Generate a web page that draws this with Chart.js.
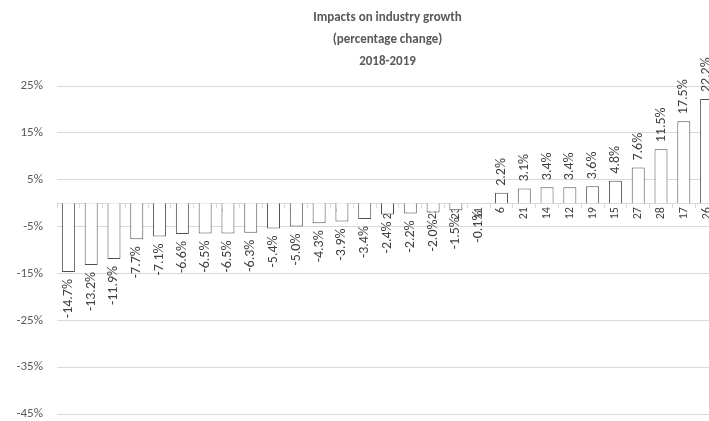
<!DOCTYPE html>
<html>
<head>
<meta charset="utf-8">
<script src="https://cdn.jsdelivr.net/npm/chart.js@4"></script>
<style>
  html, body { margin: 0; padding: 0; background: #fff; overflow: hidden; }
  /* the original is cropped: the plot runs a little past the right edge */
  #frame { width: 709px; height: 421px; overflow: hidden; }
</style>
</head>
<body>
<div id="frame"><canvas id="growth" width="718" height="421"></canvas></div>
<script>
const industries = ["5", "10", "7", "29", "3", "4", "1", "18", "25", "13", "16", "9", "8", "24", "20",
    "2", "22", "23", "11", "6", "21", "14", "12", "19", "15", "27", "28", "17", "26"];
const growth = [-14.7, -13.2, -11.9, -7.7, -7.1, -6.6, -6.5, -6.5, -6.3, -5.4, -5.0, -4.3, -3.9, -3.4, -2.4,
    -2.2, -2.0, -1.5, -0.1, 2.2, 3.1, 3.4, 3.4, 3.6, 4.8, 7.6, 11.5, 17.5, 22.2];
const titleLines = ["Impacts on industry growth", "(percentage change)", "2018-2019"];

const fontFamily = "Carlito, 'Liberation Sans Narrow', Lato, sans-serif";

// value labels, turned on their side, above / below each bar
const barLabels = {
    id: "barLabels",
    afterDatasetsDraw(chart) {
        const ctx = chart.ctx;
        const meta = chart.getDatasetMeta(0);
        ctx.save();
        ctx.font = "14px " + fontFamily;
        ctx.fillStyle = "#404040";
        ctx.textBaseline = "middle";
        meta.data.forEach((bar, i) => {
            const v = growth[i];
            ctx.save();
            ctx.translate(bar.x, v >= 0 ? bar.y - 7 : bar.y + 7);
            ctx.rotate(-Math.PI / 2);
            ctx.textAlign = v >= 0 ? "left" : "right";
            ctx.fillText(v.toFixed(1) + "%", 0, 0);
            ctx.restore();
        });
        ctx.restore();
    }
};

const chart = new Chart("growth", {
    type: "bar",
    data: {
        labels: industries,
        datasets: [{
            data: growth,
            backgroundColor: "#ffffff",
            borderColor: "#505050",
            borderWidth: 1,
            barPercentage: 0.57,
            categoryPercentage: 1
        }]
    },
    options: {
        responsive: false,
        animation: false,
        layout: { padding: 0 },
        plugins: {
            legend: { display: false },
            tooltip: { enabled: false },
            title: {
                display: true,
                fullSize: false,
                text: titleLines,
                color: "#595959",
                font: { family: fontFamily, size: 13, weight: "bold", lineHeight: "22px" },
                padding: { top: 7, bottom: 13 }
            }
        },
        scales: {
            x: {
                position: { y: 0 },
                afterFit: s => {
                    s.height = 0;
                    s.paddingLeft = 0;
                    s.paddingRight = 0;
                },
                grid: {
                    drawOnChartArea: false,
                    drawTicks: true,
                    tickLength: 4,
                    color: "#d9d9d9"
                },
                border: { color: "#d9d9d9" },
                ticks: {
                    minRotation: 90,
                    maxRotation: 90,
                    padding: 0,
                    color: "#404040",
                    font: { family: fontFamily, size: 12 }
                }
            },
            y: {
                min: -45,
                max: 25,
                afterFit: s => {
                    s.width = 57;
                    s.paddingTop = 8;
                    s.paddingBottom = 7;
                },
                grid: { color: "#d9d9d9", drawTicks: false },
                border: { display: false },
                ticks: {
                    stepSize: 10,
                    padding: 14,
                    color: "#595959",
                    font: { family: fontFamily, size: 13 },
                    callback: v => v + "%"
                }
            }
        }
    },
    plugins: [barLabels]
});
</script>
</body>
</html>
